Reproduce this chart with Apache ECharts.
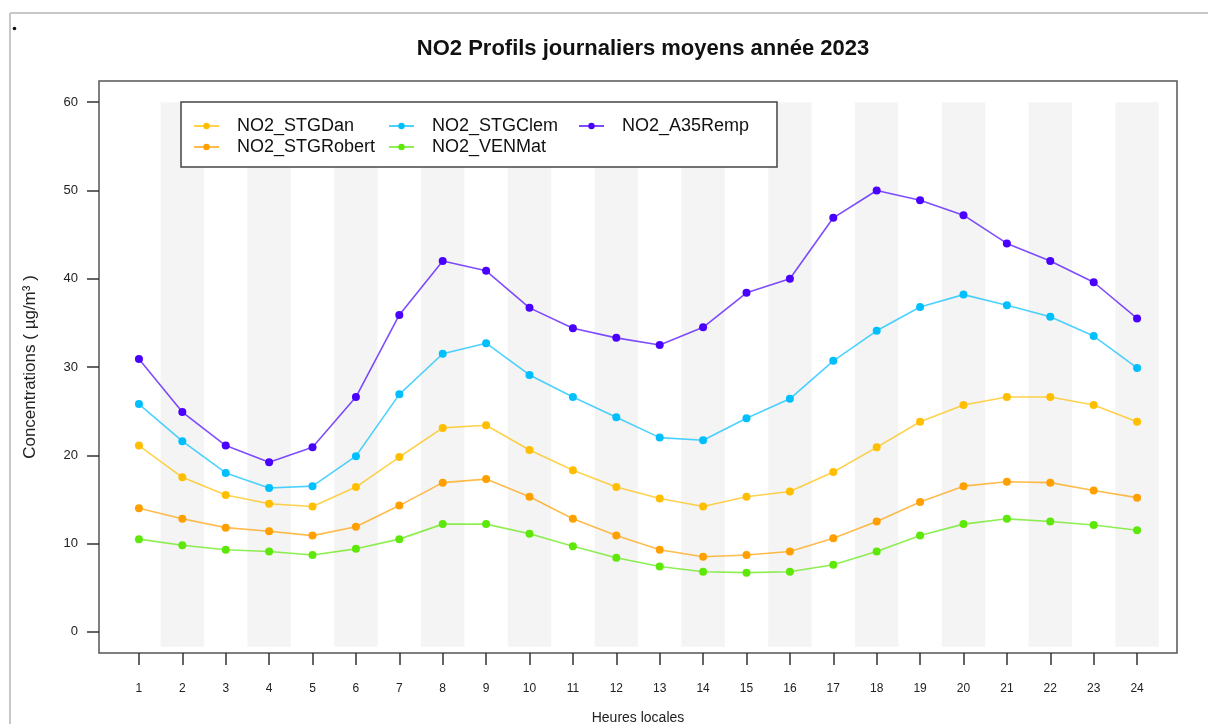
<!DOCTYPE html>
<html>
<head>
<meta charset="utf-8">
<script src="https://cdn.jsdelivr.net/npm/echarts@6/dist/echarts.min.js"></script>
<style>
html,body{margin:0;padding:0;background:#fff;}
#chart{width:1208px;height:724px;}
</style>
</head>
<body>
<div id="chart"></div>
<script>
var hours = [1,2,3,4,5,6,7,8,9,10,11,12,13,14,15,16,17,18,19,20,21,22,23,24];
var yTicks = [0,10,20,30,40,50,60];
var seriesNames = ['NO2_STGDan','NO2_STGRobert','NO2_STGClem','NO2_VENMat','NO2_A35Remp'];
var seriesColors = ['#ffbf00','#ffa000','#00bfff','#5ee80a','#4a00ff'];
var STGDan    = [21.1,17.5,15.5,14.5,14.2,16.4,19.8,23.1,23.4,20.6,18.3,16.4,15.1,14.2,15.3,15.9,18.1,20.9,23.8,25.7,26.6,26.6,25.7,23.8];
var STGRobert = [14.0,12.8,11.8,11.4,10.9,11.9,14.3,16.9,17.3,15.3,12.8,10.9,9.3,8.5,8.7,9.1,10.6,12.5,14.7,16.5,17.0,16.9,16.0,15.2];
var STGClem   = [25.8,21.6,18.0,16.3,16.5,19.9,26.9,31.5,32.7,29.1,26.6,24.3,22.0,21.7,24.2,26.4,30.7,34.1,36.8,38.2,37.0,35.7,33.5,29.9];
var VENMat    = [10.5,9.8,9.3,9.1,8.7,9.4,10.5,12.2,12.2,11.1,9.7,8.4,7.4,6.8,6.7,6.8,7.6,9.1,10.9,12.2,12.8,12.5,12.1,11.5];
var A35Remp   = [30.9,24.9,21.1,19.2,20.9,26.6,35.9,42.0,40.9,36.7,34.4,33.3,32.5,34.5,38.4,40.0,46.9,50.0,48.9,47.2,44.0,42.0,39.6,35.5];
var seriesValues = [STGDan, STGRobert, STGClem, VENMat, A35Remp];

var font = '"Liberation Sans", Arial, Helvetica, sans-serif';

// shaded bands centred on even hours
var bands = hours.filter(function(h){return h % 2 === 0;}).map(function(h){
  return [{xAxis: h - 0.5, yAxis: -1.7}, {xAxis: h + 0.5, yAxis: 60}];
});

var series = [{
  name: 'bands', type: 'line', data: [], z: 1, silent: true,
  markArea: { silent: true, itemStyle: { color: '#f4f4f4' }, data: bands }
}];
seriesNames.forEach(function(n, i){
  series.push({
    name: n, type: 'line', z: 2 + i,
    data: hours.map(function(h, j){ return [h, seriesValues[i][j]]; }),
    symbol: 'circle', symbolSize: 8,
    itemStyle: { color: seriesColors[i] },
    lineStyle: { color: seriesColors[i], width: 1.6, opacity: 0.7 },
    emphasis: { disabled: true },
    animation: false
  });
});

function legendCol(left, names){
  return {
    orient: 'vertical', left: left, top: 112, data: names,
    itemWidth: 25, itemHeight: 8, itemGap: 3,
    textStyle: { fontFamily: font, fontSize: 18, lineHeight: 18, color: '#111', padding: [0,0,0,13] },
    selectedMode: false, z: 6
  };
}

var chart = echarts.init(document.getElementById('chart'), null, {renderer: 'canvas'});
chart.setOption({
  backgroundColor: '#fff',
  animation: false,
  title: {
    text: 'NO2 Profils journaliers moyens année 2023',
    left: 638, top: 33, textAlign: 'center',
    textStyle: { fontFamily: font, fontSize: 22, fontWeight: 'bold', color: '#111' }
  },
  legend: [
    legendCol(188, [seriesNames[0], seriesNames[1]]),
    legendCol(383, [seriesNames[2], seriesNames[3]]),
    legendCol(573, [seriesNames[4]])
  ],
  grid: { left: 99, top: 81, width: 1078, height: 572, outerBoundsMode: 'none', containLabel: false,
          show: true, borderColor: '#555', borderWidth: 1.5, backgroundColor: 'transparent' },
  xAxis: {
    type: 'value', min: 0.08, max: 24.92,
    name: 'Heures locales', nameLocation: 'middle', nameGap: 58,
    nameTextStyle: { fontFamily: font, fontSize: 14, color: '#222' },
    axisLine: { show: false, onZero: false },
    splitLine: { show: false },
    axisTick: { show: true, customValues: hours, interval: 0, length: 12, inside: false, lineStyle: { color: '#333', width: 1.5 } },
    axisLabel: { customValues: hours, interval: 0, margin: 30, fontFamily: font, fontSize: 12, color: '#222' }
  },
  yAxis: {
    type: 'value', min: -2.4, max: 62.4,
    name: 'Concentrations ( µg/m³ )', nameLocation: 'middle', nameGap: 60, nameRotate: 90,
    nameTextStyle: { fontFamily: font, fontSize: 17, color: '#222' },
    axisLine: { show: false, onZero: false },
    splitLine: { show: false },
    axisTick: { show: true, customValues: yTicks, interval: 0, length: 12, inside: false, lineStyle: { color: '#333', width: 1.5 } },
    axisLabel: { customValues: yTicks, interval: 0, margin: 21, fontFamily: font, fontSize: 13, color: '#222' }
  },
  graphic: [
    { type: 'line', shape: { x1: 10, y1: 13, x2: 1208, y2: 13 }, style: { stroke: '#c8c8c8', lineWidth: 2 }, z: 10 },
    { type: 'line', shape: { x1: 10, y1: 13, x2: 10, y2: 724 }, style: { stroke: '#c8c8c8', lineWidth: 2 }, z: 10 },
    { type: 'circle', shape: { cx: 14.5, cy: 28.5, r: 1.8 }, style: { fill: '#111' }, z: 10 },
    { type: 'rect', shape: { x: 181, y: 102, width: 596, height: 65 }, style: { fill: '#fff', stroke: '#444', lineWidth: 1.5 }, z: 5 }
  ],
  series: series
});
</script>
</body>
</html>
